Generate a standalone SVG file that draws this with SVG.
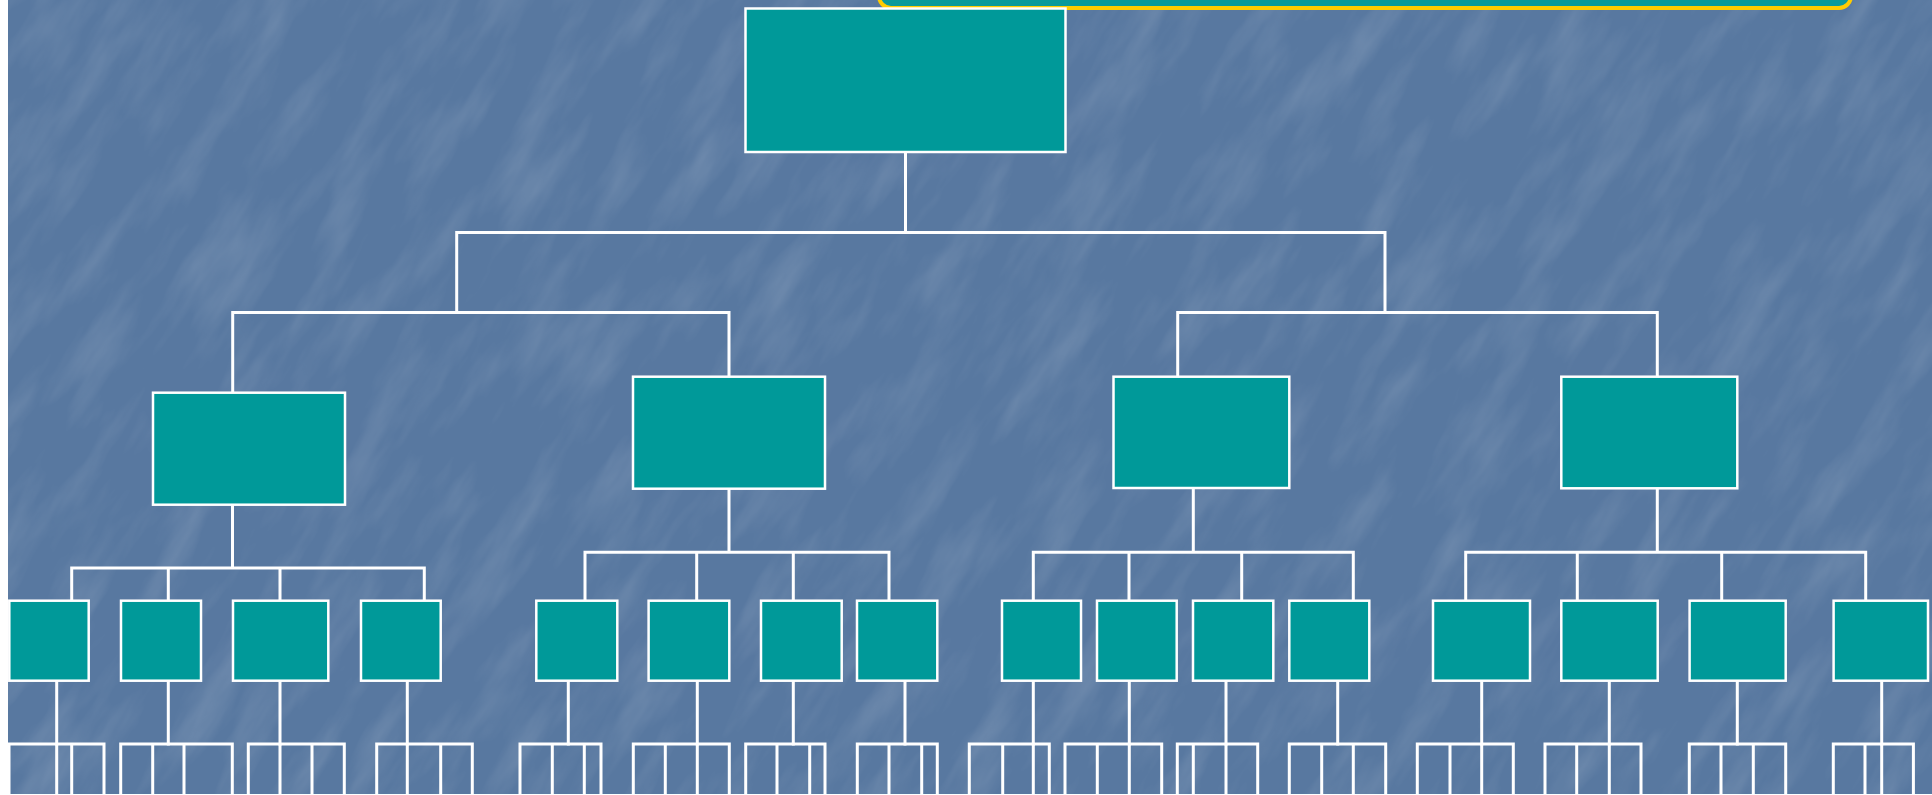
<svg xmlns="http://www.w3.org/2000/svg" width="1932" height="795" viewBox="0 0 1932 795">
<style>
.node{fill:#009999;stroke:#ffffff;stroke-width:2.5}
.conn{fill:none;stroke:#ffffff;stroke-width:3;stroke-linecap:square}
</style>
<defs>
<filter id="tex" x="0" y="0" width="100%" height="100%" color-interpolation-filters="sRGB">
<feTurbulence type="fractalNoise" baseFrequency="0.008 0.03" numOctaves="4" seed="11"/>
<feColorMatrix type="matrix" values="0 0 0 0 1  0 0 0 0 1  0 0 0 0 1  0 0 0 1.6 -0.7"/>
</filter>
<clipPath id="bgclip"><rect x="8" y="0" width="1924" height="794"/></clipPath>
</defs>
<rect x="0" y="0" width="1932" height="795" fill="#ffffff"/>
<rect x="8" y="0" width="1924" height="794" fill="#5878a0"/>
<g clip-path="url(#bgclip)">
<rect transform="rotate(-58 966 397)" x="-700" y="-900" width="3300" height="2600" filter="url(#tex)" opacity="0.16"/>
</g>

<g id="banner">
<rect x="879" y="-40" width="972" height="48" rx="12" fill="#0a9a9a" stroke="#ffcc00" stroke-width="4"/>
</g>

<g id="connectors" class="conn">
<path d="M905.5 152 V232.5 M456.7 232.5 H1385 M456.7 232.5 V312.5 M1385 232.5 V312.5"/>
<path d="M232.7 312.5 H729 M232.7 312.5 V392.7 M729 312.5 V376.7"/>
<path d="M1177.7 312.5 H1657.3 M1177.7 312.5 V376.7 M1657.3 312.5 V376.7"/>
<path d="M232.5 504.7 V568 M71.7 568 H424.3 M71.7 568 V600.7 M168.3 568 V600.7 M280 568 V600.7 M424.3 568 V600.7"/>
<path d="M729 488.7 V552.3 M585 552.3 H889 M585 552.3 V600.7 M696.7 552.3 V600.7 M793.3 552.3 V600.7 M889 552.3 V600.7"/>
<path d="M1193.3 488 V552.3 M1033.3 552.3 H1353.3 M1033.3 552.3 V600.7 M1129 552.3 V600.7 M1241.7 552.3 V600.7 M1353.3 552.3 V600.7"/>
<path d="M1657.3 488.3 V552.3 M1465.7 552.3 H1865.7 M1465.7 552.3 V600.7 M1577.3 552.3 V600.7 M1721.7 552.3 V600.7 M1865.7 552.3 V600.7"/>
<path d="M56.7 680.7 V744 M168.3 680.7 V744 M280 680.7 V744 M407.3 680.7 V744 M568.3 680.7 V744 M697.3 680.7 V744 M793.3 680.7 V744 M905 680.7 V744 M1033.3 680.7 V744 M1129.3 680.7 V744 M1226 680.7 V744 M1337.7 680.7 V744 M1481.7 680.7 V744 M1609.3 680.7 V744 M1737.3 680.7 V744 M1881.7 680.7 V744"/>
<path d="M9 744 H104 M9 744 V794 M56.7 744 V794 M71.7 744 V794 M104 744 V794"/>
<path d="M120.7 744 H232.3 M120.7 744 V794 M152.7 744 V794 M184 744 V794 M232.3 744 V794"/>
<path d="M248.3 744 H344.3 M248.3 744 V794 M280 744 V794 M312 744 V794 M344.3 744 V794"/>
<path d="M376.7 744 H472.3 M376.7 744 V794 M407.3 744 V794 M440.7 744 V794 M472.3 744 V794"/>
<path d="M520 744 H601 M520 744 V794 M552.3 744 V794 M584.3 744 V794 M601 744 V794"/>
<path d="M633.3 744 H729.3 M633.3 744 V794 M665.3 744 V794 M697.3 744 V794 M729.3 744 V794"/>
<path d="M745.7 744 H825 M745.7 744 V794 M777 744 V794 M809.7 744 V794 M825 744 V794"/>
<path d="M857.3 744 H937.3 M857.3 744 V794 M889 744 V794 M921.7 744 V794 M937.3 744 V794"/>
<path d="M969.3 744 H1049.3 M969.3 744 V794 M1002.7 744 V794 M1033.3 744 V794 M1049.3 744 V794"/>
<path d="M1065 744 H1161.7 M1065 744 V794 M1097.3 744 V794 M1129.3 744 V794 M1161.7 744 V794"/>
<path d="M1177.3 744 H1257.7 M1177.3 744 V794 M1193.3 744 V794 M1226 744 V794 M1257.7 744 V794"/>
<path d="M1289.3 744 H1385.7 M1289.3 744 V794 M1321.7 744 V794 M1353.3 744 V794 M1385.7 744 V794"/>
<path d="M1417.3 744 H1513.3 M1417.3 744 V794 M1450 744 V794 M1481.7 744 V794 M1513.3 744 V794"/>
<path d="M1545 744 H1641 M1545 744 V794 M1576.7 744 V794 M1609.3 744 V794 M1641 744 V794"/>
<path d="M1689.3 744 H1785.7 M1689.3 744 V794 M1721 744 V794 M1753.3 744 V794 M1785.7 744 V794"/>
<path d="M1833.3 744 H1913.4 M1833.3 744 V794 M1865 744 V794 M1881.7 744 V794 M1913.4 744 V794"/>
</g>

<g id="root"><rect class="node" x="745.5" y="8.5" width="320" height="143.5"/></g>

<g id="mid1"><rect class="node" x="153" y="392.7" width="192" height="112"/></g>
<g id="mid2"><rect class="node" x="633" y="376.7" width="192" height="112"/></g>
<g id="mid3"><rect class="node" x="1113.5" y="376.7" width="175.8" height="111.3"/></g>
<g id="mid4"><rect class="node" x="1561.3" y="376.7" width="176" height="111.6"/></g>

<g id="leaf1"><rect class="node" x="9.3" y="600.7" width="79.4" height="80"/></g>
<g id="leaf2"><rect class="node" x="121" y="600.7" width="80" height="80"/></g>
<g id="leaf3"><rect class="node" x="233" y="600.7" width="95.3" height="80"/></g>
<g id="leaf4"><rect class="node" x="361" y="600.7" width="79.7" height="80"/></g>
<g id="leaf5"><rect class="node" x="536.3" y="600.7" width="81" height="80"/></g>
<g id="leaf6"><rect class="node" x="648.6" y="600.7" width="80.7" height="80"/></g>
<g id="leaf7"><rect class="node" x="761" y="600.7" width="80.7" height="80"/></g>
<g id="leaf8"><rect class="node" x="857" y="600.7" width="80.3" height="80"/></g>
<g id="leaf9"><rect class="node" x="1002" y="600.7" width="79" height="80"/></g>
<g id="leaf10"><rect class="node" x="1097" y="600.7" width="79.7" height="80"/></g>
<g id="leaf11"><rect class="node" x="1193" y="600.7" width="80.3" height="80"/></g>
<g id="leaf12"><rect class="node" x="1289.3" y="600.7" width="80" height="80"/></g>
<g id="leaf13"><rect class="node" x="1433" y="600.7" width="97" height="80"/></g>
<g id="leaf14"><rect class="node" x="1561.3" y="600.7" width="96.4" height="80"/></g>
<g id="leaf15"><rect class="node" x="1689.6" y="600.7" width="96.1" height="80"/></g>
<g id="leaf16"><rect class="node" x="1833.6" y="600.7" width="94.4" height="80"/></g>
</svg>
